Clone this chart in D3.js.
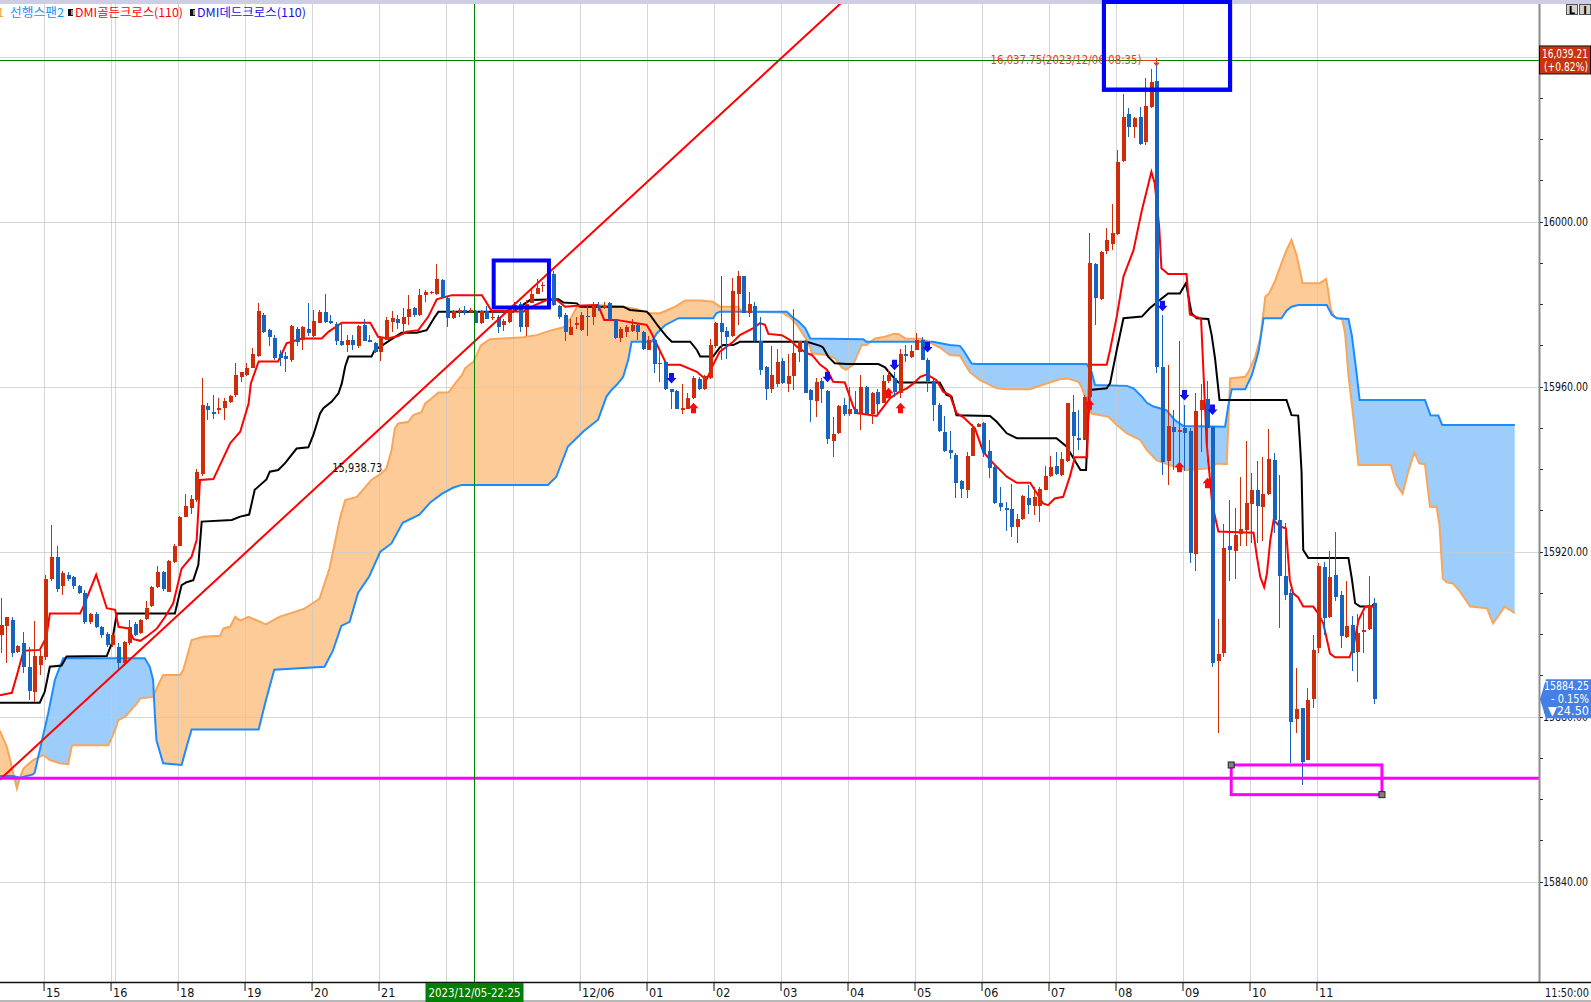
<!DOCTYPE html>
<html>
<head>
<meta charset="utf-8">
<script src="https://cdn.jsdelivr.net/npm/d3@7"></script>
<style>
  body { margin: 0; background: #fff; overflow: hidden; }
  svg { display: block; }
  .num { font-family: "Liberation Sans Narrow", "DejaVu Sans Condensed", "Arial Narrow", sans-serif; }
  .kr { font-family: "Noto Sans CJK KR", "Noto Sans", sans-serif; }
</style>
</head>
<body>
<svg id="chart" width="1591" height="1002"></svg>
<script>
(function () {
  // 5-minute candles, index 0 = 14:20 ... 246 = 11:50  [open, high, low, close]
  const candles = [
    [15899.75,15908.75,15895.5,15902.25],[15902,15904.25,15893,15904.25],[15903.5,15904.25,15894.5,15895.5],[15895.75,15897.5,15895.5,15897.25],
    [15897.75,15900.5,15890.5,15892],[15892,15897,15884,15886.25],[15886,15903.25,15883.5,15894.75],[15892.5,15896.5,15890,15894.75],
    [15894.5,15914.25,15893.75,15913.5],[15913.5,15926.5,15913,15918.75],[15918.75,15921.5,15910.25,15911],[15911.75,15915.25,15909.5,15914.75],
    [15914.25,15915,15913,15913.5],[15913.75,15914,15911,15911.75],[15911.75,15912,15909.75,15910],[15910,15910.75,15902.5,15903],
    [15903,15905.25,15902.5,15905],[15905,15905.5,15901.5,15901.75],[15901.75,15902,15899,15899.75],[15900,15900.5,15897,15897.5],
    [15897.5,15900.25,15897,15899.75],[15897,15897.75,15891.25,15893],[15893,15898.25,15892.25,15898],[15897.75,15903.5,15897.5,15901.75],
    [15902.5,15903,15899.5,15899.75],[15900.25,15903.75,15900,15903.5],[15903.75,15908,15903.5,15906.25],[15906.75,15911.75,15906.5,15911.5],
    [15911.5,15916.5,15911.25,15915],[15915,15915.25,15910.5,15911],[15910.25,15918,15910.25,15917.75],[15917.5,15921.75,15917.25,15921.5],
    [15921.5,15928.75,15921.5,15928.5],[15928.5,15934,15928.5,15931],[15930.5,15933.75,15929.25,15932.75],[15932.5,15940,15932,15939.25],
    [15938.75,15962,15938.25,15955.5],[15955.25,15956,15952,15954.25],[15953.75,15958,15952.25,15953.5],[15954.5,15957.25,15953.5,15954.75],
    [15954.75,15957.25,15952,15956.5],[15956.25,15958,15956,15957.75],[15958,15965.75,15957.5,15962.75],[15962.25,15963.5,15961.25,15963.5],
    [15962.75,15965.75,15962.5,15964.5],[15964.5,15969.5,15964.5,15968],[15967.5,15980.25,15967.25,15978.25],[15977.5,15977.75,15973,15973.25],
    [15973.75,15974,15969.75,15972],[15971.75,15972.5,15966.5,15967],[15968,15969,15965,15967],[15967.5,15968.5,15963.5,15966.75],
    [15966.5,15975,15966,15974.75],[15974,15974.5,15969.75,15970.75],[15971.25,15974.75,15969,15974.5],[15974,15980.25,15972.25,15973],
    [15972.25,15978.5,15972,15976],[15975.5,15978.5,15975.5,15978],[15978,15982.5,15975.5,15975.75],[15976,15977.5,15975.25,15975.5],
    [15975.25,15975.75,15970,15971],[15971,15975.75,15969.75,15970],[15970,15972.5,15968.5,15971.25],[15971.25,15972.5,15969,15970],
    [15969.75,15975,15969.5,15974.75],[15975,15976.5,15971,15971],[15971.25,15972.5,15970.75,15970.75],[15970.5,15970.75,15968.25,15968.5],
    [15968.5,15972.25,15966.25,15972],[15971.25,15977,15971.25,15976.25],[15975.75,15978.25,15973.25,15976.75],[15976.5,15977.5,15974,15975.5],
    [15975.25,15979,15972.5,15977],[15977,15982.25,15975,15978.75],[15979,15979.25,15977,15977.5],[15977.5,15983.75,15977.25,15982.25],
    [15982.25,15983.5,15980.5,15983],[15982.75,15983.25,15982.5,15983],[15982.5,15989.75,15982.25,15986],[15985.75,15986,15981.75,15981.75],
    [15981.5,15981.75,15974.5,15976.75],[15976.75,15978.5,15976.5,15978.25],[15978.25,15979,15977,15978.5],[15978.5,15979.5,15977.5,15978.25],
    [15978.25,15979,15977.75,15978.5],[15978.25,15978.5,15975.5,15975.5],[15975.5,15978.5,15975.25,15978.25],[15978.25,15979.5,15976.5,15976.5],
    [15976.75,15978.25,15976.25,15977],[15977,15977.5,15973,15974.5],[15975,15976.5,15973.5,15976],[15975.75,15979,15975.5,15978.75],
    [15978.5,15980.5,15978.25,15979.75],[15980,15980.5,15973.25,15974.5],[15974.5,15981,15972.25,15980],[15980.25,15983.5,15980.25,15982.5],
    [15982.5,15986,15982.5,15984],[15984.5,15985.5,15983,15984.75],[15985,15987,15984.5,15986],[15987.25,15988,15979.5,15979.75],
    [15979.5,15979.75,15976.5,15977],[15977.5,15977.75,15971,15973.25],[15972.5,15976.5,15972.5,15974.5],[15975,15977,15974,15975.5],
    [15973.75,15978,15973.5,15977.5],[15977.25,15979.75,15972.25,15977],[15977,15980.5,15975,15979.5],[15979.5,15980.5,15978.25,15979],
    [15979,15980.5,15978.75,15979.5],[15980.25,15980.5,15976,15976.25],[15976.25,15976.5,15971.5,15971.75],[15971.75,15974.5,15970.75,15974],
    [15973.25,15975,15972,15974.5],[15973.5,15976.5,15973.25,15975],[15975,15975.5,15971.25,15973.25],[15973.25,15973.5,15969,15969.25],
    [15969,15972.25,15969,15971.25],[15971.25,15972,15963.25,15965.5],[15965.5,15968.5,15961.25,15965.75],[15966,15966,15959.25,15959.5],
    [15959.5,15959.5,15954.5,15958.75],[15959,15959.25,15954.5,15954.5],[15954.25,15960.75,15953.5,15954.75],[15954.5,15958.5,15954.5,15957.25],
    [15957.25,15962.5,15957,15962],[15961.75,15962.25,15959.25,15959.5],[15959.5,15962.75,15959.25,15962.5],[15962,15971.5,15961.75,15970],
    [15969.75,15975.75,15969.5,15975.5],[15975.5,15986.75,15966.5,15973.25],[15973.5,15974.5,15966.75,15972],[15972.25,15986.25,15972,15983.25],
    [15982.5,15988,15975,15986.75],[15986.75,15986.75,15977.75,15977.75],[15977.75,15983,15977,15980],[15979.5,15980.5,15970.75,15971],
    [15971,15977,15962.75,15964],[15964.75,15965,15956.75,15959.5],[15959.5,15969.75,15958.5,15962.75],[15960.75,15969.25,15960,15966],
    [15966.25,15967,15960.75,15961],[15960.75,15968,15958.75,15962.5],[15962.5,15978.75,15959.25,15968.25],[15968.5,15971,15966,15971],
    [15971,15971.25,15958.5,15958.5],[15959.25,15959.5,15951.5,15956.75],[15956.5,15962,15952.75,15961.25],[15961.5,15962,15956,15959.5],
    [15959,15959.25,15946,15947.25],[15946.75,15952.75,15943,15948.5],[15948.75,15955.5,15948.5,15955.25],[15955.5,15957.25,15953,15953.5],
    [15953.5,15960,15953,15954.5],[15954.5,15959,15953.5,15953.5],[15953.5,15962.75,15949.5,15960],[15960,15960.25,15953.5,15953.5],
    [15953.5,15958.75,15951,15958.5],[15958.75,15959.5,15953,15955.75],[15956,15962.75,15956,15961.5],[15961.5,15964,15961,15962.75],
    [15962,15963.5,15957.5,15958.75],[15958.5,15969.25,15957.25,15968],[15968,15970,15966,15967.5],[15967.25,15970,15967,15968.75],
    [15969,15973,15969,15971.25],[15971.25,15972,15966.5,15966.5],[15966.5,15967,15958.75,15961.5],[15961.5,15962,15951.75,15955.5],
    [15955.5,15956,15949,15949.25],[15949,15953,15944.25,15944.5],[15944.75,15949.25,15942.5,15944],[15943.5,15944,15933,15936.75],
    [15937.25,15937.5,15933,15935.25],[15935,15944.25,15933,15943.25],[15943.25,15951,15943.25,15950],[15950.25,15951.25,15950.25,15951],
    [15951.25,15951.5,15943,15944],[15944.5,15947,15937.75,15940.25],[15940.5,15941,15931.5,15931.75],[15931.75,15935.75,15929.75,15930.75],
    [15930.5,15932,15925,15930.25],[15930.25,15936.5,15923.5,15926],[15926,15929.25,15922,15928],[15928,15933.75,15927.75,15933.5],
    [15933,15936.25,15929.25,15931.25],[15931,15935.75,15929,15933.25],[15931,15935.75,15927.25,15935.25],[15935,15940.75,15935,15938.25],
    [15938.25,15943.25,15938,15940.5],[15940.75,15944.25,15938.5,15938.75],[15938.5,15944.25,15938.25,15942.5],[15942,15956,15941.75,15956],
    [15953.75,15958,15940.5,15948],[15947.5,15954.25,15944.75,15947.25],[15947,15958,15947,15957.5],[15957.5,15997.25,15956.75,15990],
    [15989.75,15990,15975,15981.5],[15981.25,15993,15981,15992.75],[15993,15998.5,15992.25,15995.5],[15994.5,16004.25,15993.25,15997.25],
    [15997,16017.5,15996.75,16014.5],[16014.75,16031,16014.5,16025.5],[16026,16027.5,16020.5,16023],[16023,16025.5,16020.25,16025.25],
    [16025.5,16027.75,16018.5,16018.75],[16019.25,16034.75,16018.5,16028],[16027.75,16037,16027.5,16033.75],[16034,16037.75,15963.25,15964.75],
    [15964.75,15977.5,15938.5,15941.75],[15942,15965.25,15936.25,15950.5],[15950.25,15954.25,15939.75,15949],[15949,15971,15940.5,15949.5],
    [15950,15955.5,15939.5,15948.75],[15949.25,15950,15917.25,15919.75],[15919.5,15958.5,15915.25,15954],[15954.25,15960.75,15944.25,15956.75],
    [15957,15961.5,15941.75,15950],[15950.25,15950.5,15892,15893],[15893.5,15903.75,15876,15895.25],[15895.5,15926.75,15894.5,15921],
    [15921.5,15932.5,15913,15920.5],[15920.25,15930.5,15913.5,15924],[15924.25,15938,15921.5,15925.5],[15925.25,15946.75,15921.5,15931.75],
    [15931.5,15939,15922,15935],[15935,15942,15922,15931],[15930.75,15943,15922.5,15934],[15934,15949.75,15933.75,15942.5],
    [15942.25,15944,15924.5,15927.75],[15927.75,15938.5,15901.5,15914],[15914,15927,15908.25,15909.5],[15910,15911,15868.75,15878.75],
    [15879.5,15891.75,15876,15881.75],[15882,15882,15863.5,15869],[15869.5,15887,15869.5,15884],[15884.25,15899.75,15882,15896.25],
    [15896.75,15917.25,15895.5,15916.5],[15916.25,15917.5,15899.75,15904],[15904.25,15920.25,15904,15913.75],[15914.25,15924.75,15908,15909],
    [15909.5,15910.5,15896.75,15899.5],[15899.25,15913,15899,15902],[15902.25,15904.5,15891,15895.5],[15895.75,15905,15888.5,15900.25],
    [15900.5,15905.25,15895.5,15901],[15901.25,15914,15901,15907],[15907.5,15908.75,15883,15884.25]
  ];

  // indicator lines as [candle index, price] vertices
  const tenkanLine = [
    [-0.2,15885.2],[2.0,15885.8],[3.0,15890.5],[4.1,15896.0],[7.0,15896.2],[8.2,15899.4],[8.8,15905.0],[14.2,15905.0],[14.8,15906.7],
    [17.1,15914.4],[19.0,15906.3],[20.5,15905.9],[21.1,15901.8],[22.9,15901.4],[23.8,15898.8],[25.0,15898.4],[26.1,15899.4],[28.0,15901.4],
    [29.4,15904.1],[30.9,15907.5],[32.4,15915.9],[34.2,15918.8],[35.1,15922.8],[35.7,15937.4],[38.1,15937.6],[41.1,15946.3],[42.9,15949.1],
    [44.4,15955.9],[44.8,15960.8],[46.2,15966.1],[49.7,15966.1],[51.2,15970.5],[53.9,15971.7],[57.5,15971.7],[58.7,15973.3],[61.1,15975.5],
    [66.2,15975.5],[67.6,15972.1],[69.4,15971.7],[71.2,15972.3],[72.7,15973.3],[74.8,15973.7],[76.6,15977.0],[78.1,15981.2],[80.8,15982.2],
    [86.2,15982.2],[87.9,15978.4],[93.6,15978.2],[95.7,15979.8],[97.8,15981.0],[99.6,15981.0],[101.1,15979.4],[103.2,15979.6],[107.0,15979.8],
    [108.1,15976.2],[110.3,15976.2],[113.3,15975.5],[115.7,15975.0],[116.6,15972.9],[117.8,15969.5],[119.3,15965.3],[121.7,15965.3],
    [124.7,15963.6],[126.4,15961.6],[127.6,15965.3],[128.8,15968.5],[131.2,15970.9],[132.4,15972.5],[134.8,15974.2],[136.0,15975.4],
    [136.9,15975.0],[137.5,15972.8],[139.9,15972.5],[141.4,15971.3],[142.6,15969.7],[144.4,15968.1],[145.3,15967.7],[146.8,15965.3],
    [148.0,15964.1],[149.1,15961.2],[151.2,15961.0],[152.7,15955.2],[153.3,15953.6],[156.9,15952.9],[157.5,15954.0],[159.3,15957.2],
    [160.8,15958.6],[162.3,15959.6],[163.5,15960.8],[164.7,15962.4],[165.9,15963.0],[167.6,15961.6],[168.8,15958.8],[170.0,15958.0],
    [171.2,15953.6],[172.5,15952.5],[174.5,15949.9],[176.0,15944.2],[177.8,15941.4],[180.2,15938.2],[182.0,15936.7],[184.4,15936.7],
    [185.6,15934.1],[186.7,15931.7],[187.6,15931.3],[188.8,15932.9],[190.3,15933.3],[191.5,15938.2],[192.4,15942.9],[194.6,15942.9],
    [195.0,15965.3],[198.1,15965.3],[198.7,15968.9],[199.9,15977.0],[201.1,15986.7],[202.9,15993.1],[204.4,16002.8],[205.3,16007.7],
    [206.1,16012.1],[206.7,16009.3],[207.5,15998.8],[207.9,15988.7],[209.1,15987.3],[212.4,15987.3],[213.0,15977.5],[215.0,15976.5],
    [216.0,15946.4],[217.0,15931.5],[218.1,15924.9],[224.4,15924.6],[225.0,15918.8],[225.6,15913.9],[226.3,15911.4],[226.8,15914.7],
    [227.4,15922.8],[228.0,15927.7],[229.1,15926.1],[230.2,15925.7],[230.9,15913.1],[231.5,15909.9],[232.4,15908.9],[233.3,15906.7],
    [235.1,15906.7],[236.0,15905.0],[236.9,15902.6],[238.1,15895.3],[239.0,15894.4],[241.6,15894.4],[242.3,15897.0],[243.2,15903.4],
    [244.4,15906.7],[246.0,15906.7]
  ];
  const kijunLine = [
    [-0.2,15883.4],[7.0,15883.4],[7.9,15886.1],[8.8,15892.1],[10.9,15892.4],[11.8,15894.6],[19.0,15894.7],[19.9,15897.8],[20.8,15905.0],
    [31.2,15905.0],[32.4,15911.9],[33.3,15912.6],[34.5,15913.1],[35.4,15916.8],[36.0,15927.3],[41.4,15927.7],[42.9,15928.5],[44.5,15929.0],
    [45.5,15935.0],[47.6,15937.5],[48.2,15939.4],[49.7,15939.8],[50.9,15941.4],[53.0,15945.0],[55.1,15945.3],[56.0,15948.3],[57.2,15953.5],
    [57.8,15954.8],[59.3,15956.4],[60.5,15958.4],[61.1,15960.8],[61.7,15964.9],[62.3,15967.3],[66.4,15967.3],[67.0,15968.9],[68.2,15969.9],
    [71.8,15973.1],[74.5,15973.1],[76.3,15973.7],[77.8,15977.0],[78.4,15978.2],[91.8,15978.2],[94.8,15981.0],[99.9,15981.2],[100.8,15980.4],
    [103.2,15980.2],[103.8,15979.4],[111.5,15979.4],[112.7,15978.6],[115.7,15978.2],[116.3,15977.4],[117.8,15974.6],[119.3,15972.1],
    [120.2,15970.9],[123.5,15970.9],[124.7,15968.9],[125.3,15967.3],[127.6,15967.3],[128.8,15969.5],[129.4,15970.1],[131.2,15970.1],
    [132.4,15970.9],[144.4,15970.9],[146.8,15969.9],[147.3,15969.5],[148.2,15967.3],[149.4,15965.7],[151.5,15965.5],[157.2,15965.5],
    [158.4,15964.7],[159.3,15963.2],[160.8,15961.0],[168.2,15961.0],[169.4,15958.0],[170.3,15957.6],[171.2,15953.1],[177.2,15952.9],
    [178.4,15951.5],[180.2,15948.7],[182.0,15947.5],[189.1,15947.5],[190.9,15945.5],[192.7,15941.4],[193.4,15939.8],[194.4,15939.8],
    [194.8,15952.7],[195.1,15959.2],[198.1,15959.6],[198.7,15960.8],[199.9,15968.9],[201.1,15976.6],[204.4,15977.0],[205.8,15979.0],
    [207.6,15981.0],[209.1,15982.6],[211.2,15982.6],[212.3,15985.1],[213.3,15977.8],[214.2,15976.6],[216.3,15976.4],[216.9,15972.5],
    [217.5,15966.9],[218.3,15956.8],[230.3,15956.8],[231.2,15953.1],[232.4,15953.0],[232.7,15946.7],[233.0,15939.4],[233.3,15920.4],
    [234.2,15918.5],[241.4,15918.5],[242.0,15913.5],[242.6,15907.5],[243.5,15906.7],[245.6,15906.7],[246.0,15907.5]
  ];
  const span1Line = [
    [-1,15878.0],[-0.1,15876.4],[1.1,15872.7],[2.9,15862.6],[3.5,15865.5],[4.1,15867.5],[5.8,15869.5],[7.6,15870.7],[8.8,15869.5],
    [10.6,15868.7],[12.1,15868.5],[12.7,15872.7],[13.0,15873.1],[19.3,15873.1],[20.5,15876.8],[21.1,15879.2],[22.3,15880.0],[24.4,15883.2],
    [25.0,15884.4],[27.3,15884.8],[28.2,15887.7],[29.1,15890.1],[32.1,15890.1],[32.7,15891.3],[34.2,15898.6],[36.3,15899.4],[39.3,15899.6],
    [39.9,15901.4],[41.1,15901.8],[42.0,15904.2],[42.9,15903.3],[44.4,15904.2],[47.5,15902.4],[49.9,15904.2],[54.4,15906.2],[57.1,15908.6],
    [58.9,15916.0],[60.8,15928.3],[61.7,15932.5],[63.8,15933.3],[66.4,15937.4],[68.2,15939.0],[69.1,15940.2],[70.0,15944.6],[70.6,15949.9],
    [71.2,15951.1],[73.0,15951.5],[73.9,15953.1],[75.4,15953.9],[76.0,15955.9],[77.2,15957.2],[78.4,15958.6],[80.2,15958.6],[81.4,15960.8],
    [82.6,15962.8],[83.2,15964.5],[84.7,15966.1],[86.0,15970.0],[87.6,15971.5],[93.6,15972.0],[96.0,15972.5],[98.4,15973.6],[100.8,15974.4],
    [102.3,15977.0],[103.2,15979.4],[106.7,15979.8],[111.5,15979.4],[113.9,15978.8],[116.3,15977.8],[118.1,15977.8],[120.5,15979.2],
    [122.6,15980.9],[125.3,15980.9],[127.6,15980.6],[128.8,15979.4],[132.1,15979.4],[132.7,15978.2],[139.9,15978.0],[141.4,15976.8],
    [142.6,15975.0],[144.4,15971.3],[145.0,15969.5],[145.3,15968.1],[147.9,15967.7],[149.4,15966.9],[150.6,15964.7],[151.4,15964.1],
    [152.7,15965.3],[154.2,15970.1],[155.1,15970.1],[156.6,15971.7],[158.4,15972.1],[159.9,15972.8],[160.8,15972.8],[162.0,15971.7],
    [164.7,15971.6],[166.2,15970.9],[168.2,15969.5],[170.0,15967.7],[171.8,15967.5],[173.6,15963.5],[175.4,15961.6],[176.6,15960.8],
    [178.4,15959.6],[180.2,15959.4],[184.4,15959.4],[185.6,15960.0],[187.9,15961.0],[189.7,15961.8],[191.2,15962.0],[193.0,15961.2],
    [193.6,15960.0],[194.2,15957.6],[195.4,15953.5],[198.4,15952.7],[199.9,15950.7],[201.7,15948.7],[204.1,15947.1],[205.3,15944.6],
    [207.0,15942.2],[209.4,15941.0],[212.4,15939.8],[216.6,15940.2],[217.8,15941.4],[219.6,15941.2],[220.2,15962.0],[222.9,15962.4],
    [223.5,15963.6],[224.7,15967.3],[225.6,15971.7],[226.2,15978.2],[226.5,15981.8],[227.2,15982.6],[228.2,15985.5],[229.4,15989.9],
    [230.3,15993.1],[231.2,15995.6],[232.1,15991.9],[233.2,15985.1],[236.3,15985.1],[237.4,15986.1],[237.8,15983.0],[238.2,15979.0],
    [238.8,15977.0],[240.3,15976.3],[240.8,15972.9],[241.4,15962.8],[242.3,15952.3],[243.2,15941.0],[249.0,15941.0],[250.0,15936.2],
    [251.1,15934.1],[252.1,15939.4],[253.2,15944.0],[254.1,15941.4],[255.1,15941.2],[256.0,15930.9],[257.2,15930.8],[257.7,15926.5],
    [258.3,15913.5],[259.0,15912.6],[260.1,15912.3],[261.4,15910.3],[263.2,15906.7],[266.2,15906.3],[267.3,15902.6],[269.4,15906.7],
    [271.2,15905.1]
  ];
  const span2Line = [
    [-1,15865.6],[2.2,15865.6],[3.4,15865.2],[5.8,15866.0],[6.1,15866.5],[7.0,15871.9],[8.5,15880.8],[9.7,15888.9],[10.6,15892.1],[11.2,15894.2],[25.8,15894.2],
    [26.7,15892.1],[27.3,15888.9],[27.6,15880.8],[27.9,15874.3],[29.1,15868.7],[32.4,15868.3],[33.3,15872.7],[34.2,15876.9],[46.2,15876.9],
    [47.5,15884.0],[49.0,15891.4],[58.0,15892.1],[59.5,15896.0],[61.0,15902.0],[62.5,15903.0],[64.0,15910.0],[66.0,15914.0],[68.0,15920.0],
    [70.0,15922.0],[72.0,15927.0],[75.0,15929.0],[77.0,15932.0],[79.0,15934.0],[81.0,15935.5],[82.6,15936.2],[98.0,15936.2],[99.5,15938.1],
    [101.6,15945.5],[104.4,15949.2],[107.0,15952.0],[108.5,15957.6],[109.4,15959.2],[110.3,15960.4],[111.5,15962.4],[112.4,15966.5],
    [113.0,15970.9],[116.6,15970.9],[117.5,15972.9],[118.4,15974.1],[119.0,15974.9],[121.4,15976.6],[127.6,15976.6],[128.2,15977.8],
    [128.8,15978.2],[140.8,15978.2],[141.7,15977.0],[142.9,15975.8],[144.1,15974.2],[145.0,15971.7],[154.5,15971.5],[155.1,15970.9],
    [167.0,15970.9],[170.0,15970.1],[171.8,15969.9],[172.4,15968.9],[173.9,15965.6],[174.8,15965.5],[194.5,15965.5],[195.4,15963.6],
    [196.0,15960.4],[201.7,15960.2],[202.9,15959.6],[204.4,15957.6],[205.3,15956.1],[206.5,15955.2],[208.8,15954.3],[210.3,15951.9],
    [211.8,15950.5],[219.3,15950.3],[219.9,15955.6],[220.5,15959.4],[222.9,15959.4],[224.1,15962.8],[225.3,15968.5],[226.2,15976.6],
    [229.4,15976.6],[230.3,15978.4],[231.2,15979.4],[232.4,15979.8],[237.5,15979.8],[238.4,15977.5],[239.3,15976.6],[241.4,15976.4],
    [242.0,15972.5],[242.9,15962.8],[243.4,15956.8],[255.1,15956.8],[256.1,15953.1],[257.5,15953.0],[258.2,15950.7],[271.2,15950.7]
  ];

  // DMI signals: [candle index, arrow price]
  const deadCross = [[120,15962.1],[148,15962.4],[160,15965.3],[166,15969.6],[208,15979.6],[212,15958.0],[217,15954.5]];
  const goldenCross = [[124,15954.8],[159,15958.4],[161,15954.8],[195,15955.6],[211,15940.5],[216,15936.6]];

  // drawings
  const trendLine = [[-0.125,15864.8],[102.56,15993.1]];
  const supportPrice = 15865.06;
  const boxes = [
    { from: [88.3,15990.6], to: [98.2,15979.2], color: '#0000ff' },
    { from: [197.6,16070], to: [220.2,16032.0], color: '#0000ff' },
    { from: [220.4,15868.3], to: [247.4,15861.1], color: '#ff00ff' }
  ];
  const trendLabel = { idx: 59.4, price: 15938.73, text: '15,938.73' };
  const highMark = { idx: 207, price: 16037.75, text: '16,037.75(2023/12/06-08:35)' };

  // axes
  const priceTicks = [15840, 15880, 15920, 15960, 16000, 16040];
  const priceLabelTicks = [15840, 15880, 15920, 15960, 16000];
  const hourTickIdx = [8,20,32,44,56,68,80,92,104,116,128,140,152,164,176,188,200,212,224,236];
  const hourTickLabels = ['15','16','18','19','20','21','22','23','12/06','01','02','03','04','05','06','07','08','09','10','11'];
  const sessionBreakIdx = [20.75];
  const crossIdx = 85, crossPrice = 16039.21;
  const crossTimeText = '2023/12/05-22:25';
  const lastTimeText = '11:50:00';
  const crossPriceText = ['16,039.21', '(+0.82%)'];
  const lastPriceText = ['15884.25', '- 0.15%', '\u25BC24.50'];
  const legendItems = [
    { text: '선행스팬1', color: '#f5a04a', x: 4, anchor: 'end' },
    { text: '선행스팬2', color: '#1e8ff0', x: 10, w: 54 },
    { text: 'DMI골든크로스(110)', color: '#ff0000', x: 75, icon: 68, w: 108 },
    { text: 'DMI데드크로스(110)', color: '#1414e0', x: 197, icon: 190, w: 109 }
  ];

  const PLOT_RIGHT = 1539;
  const PLOT_TOP = 4;
  const PLOT_BOTTOM = 982;
  const UP = '#d02c0a', DOWN = '#1763c0';

  const x = d3.scaleLinear().domain([-0.125, 275.53]).range([0, PLOT_RIGHT]);
  const y = d3.scaleLinear().domain([15840, 16000]).range([881.7, 221.7]);
  const gridX = i => Math.round(x(i) - 1.8) + 0.5;

  const svg = d3.select('#chart');
  const defs = svg.append('defs');
  defs.append('clipPath').attr('id', 'plotClip').append('rect')
    .attr('x', 0).attr('y', PLOT_TOP).attr('width', PLOT_RIGHT).attr('height', PLOT_BOTTOM - PLOT_TOP);

  // top strip
  svg.append('rect').attr('x', 0).attr('y', 0).attr('width', 1591).attr('height', PLOT_TOP).attr('fill', '#cdcde4');

  const plot = svg.append('g').attr('clip-path', 'url(#plotClip)');

  // ==================
  // Cloud
  // ==================
  const line = d3.line().x(d => x(d[0])).y(d => y(d[1]));
  const areaDown = d3.area().x(d => x(d[0])).y0(PLOT_BOTTOM + 50).y1(d => y(d[1]));
  const areaUp = d3.area().x(d => x(d[0])).y0(-50).y1(d => y(d[1]));
  defs.append('clipPath').attr('id', 'belowSpan1').append('path').attr('d', areaDown(span1Line));
  defs.append('clipPath').attr('id', 'belowSpan2').append('path').attr('d', areaDown(span2Line));
  plot.append('path').attr('d', areaUp(span2Line)).attr('fill', '#fdcb98').attr('clip-path', 'url(#belowSpan1)');
  plot.append('path').attr('d', areaUp(span1Line)).attr('fill', '#9dcdfb').attr('clip-path', 'url(#belowSpan2)');

  // grid
  const grid = plot.append('g').attr('stroke', 'rgba(200,200,200,0.75)').attr('stroke-width', 1).attr('shape-rendering', 'crispEdges');
  grid.selectAll('.vg').data(hourTickIdx.concat(sessionBreakIdx)).join('line').attr('class', 'vg')
    .attr('x1', gridX).attr('x2', gridX).attr('y1', PLOT_TOP).attr('y2', PLOT_BOTTOM);
  grid.selectAll('.hg').data(priceTicks).join('line').attr('class', 'hg')
    .attr('x1', 0).attr('x2', PLOT_RIGHT)
    .attr('y1', d => Math.round(y(d)) + 0.5).attr('y2', d => Math.round(y(d)) + 0.5);

  plot.append('path').attr('d', line(span1Line)).attr('fill', 'none').attr('stroke', '#f8a65a').attr('stroke-width', 2);
  plot.append('path').attr('d', line(span2Line)).attr('fill', 'none').attr('stroke', '#1a8cff').attr('stroke-width', 2);
  plot.append('path').attr('d', line(kijunLine)).attr('fill', 'none').attr('stroke', '#000').attr('stroke-width', 2);
  plot.append('path').attr('d', line(tenkanLine)).attr('fill', 'none').attr('stroke', '#ff0000').attr('stroke-width', 2);

  // ==================
  // Candles
  // ==================
  const cg = plot.append('g').attr('shape-rendering', 'crispEdges');
  const cx = i => Math.round(x(i));
  cg.selectAll('.wick').data(candles).join('line').attr('class', 'wick')
    .attr('x1', (d, i) => cx(i) + 0.5).attr('x2', (d, i) => cx(i) + 0.5)
    .attr('y1', d => y(d[1])).attr('y2', d => y(d[2]))
    .attr('stroke', d => d[3] >= d[0] ? UP : DOWN).attr('stroke-width', 1);
  cg.selectAll('.body').data(candles).join('rect').attr('class', 'body')
    .attr('x', (d, i) => cx(i) - 1.5).attr('width', 4)
    .attr('y', d => y(Math.max(d[0], d[3])))
    .attr('height', d => Math.max(1.5, Math.abs(y(d[0]) - y(d[3]))))
    .attr('fill', d => d[3] >= d[0] ? UP : DOWN);

  // DMI arrows
  const downArrow = (px, py) => `M${px - 2.5},${py - 5}h5v5h2.5l-5,5.5l-5,-5.5h2.5z`;
  const upArrow = (px, py) => `M${px - 2.5},${py + 5}h5v-5h2.5l-5,-5.5l-5,5.5h2.5z`;
  plot.selectAll('.dead').data(deadCross).join('path').attr('class', 'dead')
    .attr('d', d => downArrow(cx(d[0]) + 0.5, y(d[1]))).attr('fill', '#1010ee');
  plot.selectAll('.gold').data(goldenCross).join('path').attr('class', 'gold')
    .attr('d', d => upArrow(cx(d[0]) + 0.5, y(d[1]))).attr('fill', '#ff0a0a');

  // ==================
  // Drawings
  // ==================
  const tl = d3.scaleLinear().domain([trendLine[0][0], trendLine[1][0]]).range([trendLine[0][1], trendLine[1][1]]);
  plot.append('line')
    .attr('x1', x(trendLine[0][0])).attr('y1', y(trendLine[0][1]))
    .attr('x2', x(160)).attr('y2', y(tl(160)))
    .attr('stroke', '#ff0000').attr('stroke-width', 2);

  plot.append('line').attr('x1', 0).attr('x2', PLOT_RIGHT)
    .attr('y1', y(supportPrice)).attr('y2', y(supportPrice))
    .attr('stroke', '#ff00ff').attr('stroke-width', 3);

  plot.selectAll('.box').data(boxes).join('rect').attr('class', 'box')
    .attr('x', d => x(d.from[0])).attr('y', d => y(d.from[1]))
    .attr('width', d => x(d.to[0]) - x(d.from[0])).attr('height', d => y(d.to[1]) - y(d.from[1]))
    .attr('fill', 'none').attr('stroke', d => d.color).attr('stroke-width', d => d.color === '#ff00ff' ? 3 : 4);
  const mbox = boxes[2];
  [[mbox.from[0], mbox.from[1]], [mbox.to[0], mbox.to[1]]].forEach(p => {
    plot.append('rect').attr('x', x(p[0]) - 3).attr('y', y(p[1]) - 3).attr('width', 6).attr('height', 6)
      .attr('fill', '#808080').attr('stroke', '#222').attr('stroke-width', 1);
  });

  plot.append('text').attr('class', 'num')
    .attr('x', x(trendLabel.idx)).attr('y', y(trendLabel.price) - 2)
    .attr('font-size', 12.5).attr('fill', '#111')
    .attr('textLength', 50).attr('lengthAdjust', 'spacingAndGlyphs').text(trendLabel.text);

  // crosshair
  const crossX = cx(crossIdx) - 0.5;
  plot.append('line').attr('x1', crossX).attr('x2', crossX).attr('y1', PLOT_TOP).attr('y2', PLOT_BOTTOM)
    .attr('stroke', '#008000').attr('stroke-width', 1);
  plot.append('line').attr('x1', 0).attr('x2', PLOT_RIGHT)
    .attr('y1', Math.round(y(crossPrice)) + 0.5).attr('y2', Math.round(y(crossPrice)) + 0.5)
    .attr('stroke', '#008000').attr('stroke-width', 1.2);

  // high marker
  const hx = cx(highMark.idx) + 0.5;
  const hy = y(highMark.price);
  svg.append('text').attr('class', 'num')
    .attr('x', hx - 15).attr('y', hy - 1.5).attr('text-anchor', 'end')
    .attr('font-size', 12).attr('fill', '#e0401c')
    .attr('textLength', 151).attr('lengthAdjust', 'spacingAndGlyphs').text(highMark.text);
  svg.append('line').attr('x1', hx - 14).attr('x2', hx).attr('y1', hy - 5.5).attr('y2', hy - 5.5)
    .attr('stroke', '#e0401c').attr('stroke-width', 1);
  svg.append('path').attr('d', `M${hx - 2.5},${hy - 3}l2.5,3l2.5,-3z M${hx},${hy - 8}v6`)
    .attr('fill', '#e0401c').attr('stroke', '#e0401c').attr('stroke-width', 1);
  // blue box over the label, as in the picture
  svg.append('rect')
    .attr('x', x(boxes[1].from[0])).attr('y', 2)
    .attr('width', x(boxes[1].to[0]) - x(boxes[1].from[0])).attr('height', y(boxes[1].to[1]) - 2)
    .attr('fill', 'none').attr('stroke', '#0000ff').attr('stroke-width', 4);

  // ==================
  // Legend
  // ==================
  const lg = svg.append('g');
  legendItems.forEach(it => {
    if (it.icon !== undefined) {
      lg.append('rect').attr('x', it.icon).attr('y', 9).attr('width', 5).attr('height', 7).attr('fill', '#111');
      lg.append('rect').attr('x', it.icon + 3).attr('y', 10).attr('width', 2).attr('height', 5).attr('fill', '#9a9a9a');
    }
    const t = lg.append('text').attr('class', 'kr').attr('x', it.x).attr('y', 17)
      .attr('text-anchor', it.anchor || 'start')
      .attr('font-size', 12).attr('fill', it.color).text(it.text);
    if (it.w) t.attr('textLength', it.w).attr('lengthAdjust', 'spacingAndGlyphs');
  });

  // ==================
  // Price axis (right)
  // ==================
  svg.append('line').attr('x1', PLOT_RIGHT + 0.5).attr('x2', PLOT_RIGHT + 0.5).attr('y1', PLOT_TOP).attr('y2', PLOT_BOTTOM)
    .attr('stroke', '#8c8c8c').attr('stroke-width', 2);
  const yAxis = d3.axisRight(y).tickValues(priceLabelTicks).tickFormat(d3.format('.2f')).tickSize(0).tickPadding(4);
  const yAxisG = svg.append('g').attr('class', 'num').attr('transform', `translate(${PLOT_RIGHT}, 0)`).call(yAxis);
  yAxisG.select('.domain').remove();
  yAxisG.selectAll('text').attr('font-size', 12).attr('fill', '#111').attr('font-family', null)
    .attr('textLength', 45).attr('lengthAdjust', 'spacingAndGlyphs');
  const minorTicks = d3.range(15840, 16041, 10);
  svg.append('g').selectAll('line').data(minorTicks).join('line')
    .attr('x1', PLOT_RIGHT + 1).attr('x2', PLOT_RIGHT + 4)
    .attr('y1', d => Math.round(y(d)) + 0.5).attr('y2', d => Math.round(y(d)) + 0.5)
    .attr('stroke', '#333').attr('stroke-width', 1);

  // crosshair price box
  const cpy = y(crossPrice);
  svg.append('rect').attr('x', PLOT_RIGHT + 0.5).attr('y', cpy - 14).attr('width', 51).attr('height', 28)
    .attr('fill', '#c93312').attr('stroke', '#111').attr('stroke-width', 1);
  const crossW = [46, 44];
  crossPriceText.forEach((t, k) => {
    svg.append('text').attr('class', 'num').attr('x', 1588).attr('y', cpy - 2 + k * 13)
      .attr('text-anchor', 'end').attr('font-size', 12.5).attr('fill', '#fff')
      .attr('textLength', crossW[k]).attr('lengthAdjust', 'spacingAndGlyphs').text(t);
  });

  // last price box
  const last = candles[candles.length - 1][3];
  const lpy = y(last);
  svg.append('path')
    .attr('d', `M${PLOT_RIGHT + 1},${lpy} L${PLOT_RIGHT + 7},${lpy - 20} H1591 V${lpy + 19} H${PLOT_RIGHT + 7} Z`)
    .attr('fill', '#437fe6');
  const lastW = [45, 38, 41];
  lastPriceText.forEach((t, k) => {
    svg.append('text').attr('class', 'num').attr('x', 1589).attr('y', lpy - 9 + k * 12.5)
      .attr('text-anchor', 'end').attr('font-size', 12.5).attr('fill', '#fff')
      .attr('textLength', lastW[k]).attr('lengthAdjust', 'spacingAndGlyphs').text(t);
  });

  // L / I buttons
  [['L', 1566], ['I', 1579]].forEach(b => {
    svg.append('rect').attr('x', b[1] + 0.5).attr('y', 4.5).attr('width', 11).attr('height', 10)
      .attr('fill', '#d6d3ce').attr('stroke', '#555').attr('stroke-width', 1);
    svg.append('text').attr('class', 'num').attr('x', b[1] + 6).attr('y', 13.5).attr('text-anchor', 'middle')
      .attr('font-size', 11).attr('font-weight', 'bold').attr('fill', '#000').text(b[0]);
  });

  // ==================
  // Time axis (bottom)
  // ==================
  const crossBoxW = 98;
  const crossBoxX = crossX - crossBoxW / 2;
  const hiddenLabel = i => {
    const gx = gridX(i);
    return gx + 14 > crossBoxX && gx < crossBoxX + crossBoxW;
  };
  const tickScale = x.copy().range([x.range()[0] - 1.8, x.range()[1] - 1.8]);
  const xAxis = d3.axisBottom(tickScale).tickValues(hourTickIdx)
    .tickFormat((d, i) => hiddenLabel(d) ? '' : hourTickLabels[i])
    .tickSize(9).tickPadding(-8);
  const xAxisG = svg.append('g').attr('class', 'num').attr('transform', `translate(0, ${PLOT_BOTTOM})`).call(xAxis);
  xAxisG.select('.domain').remove();
  xAxisG.selectAll('.tick line').attr('stroke', '#111');
  xAxisG.selectAll('.tick text').attr('x', 2).attr('y', 6).attr('dy', '0.71em')
    .attr('text-anchor', 'start').attr('font-size', 12.5).attr('fill', '#111').attr('font-family', null);
  svg.append('line').attr('x1', 0).attr('x2', 1591).attr('y1', PLOT_BOTTOM + 0.5).attr('y2', PLOT_BOTTOM + 0.5)
    .attr('stroke', '#111').attr('stroke-width', 1.5);
  svg.append('line').attr('x1', 0).attr('x2', 1591).attr('y1', 1001).attr('y2', 1001)
    .attr('stroke', '#b8b8b8').attr('stroke-width', 2);

  svg.append('rect').attr('x', crossBoxX).attr('y', PLOT_BOTTOM + 1).attr('width', crossBoxW).attr('height', 19)
    .attr('fill', '#008000');
  svg.append('text').attr('class', 'num').attr('x', crossX).attr('y', PLOT_BOTTOM + 15)
    .attr('text-anchor', 'middle').attr('font-size', 12.5).attr('fill', '#fff')
    .attr('textLength', 92).attr('lengthAdjust', 'spacingAndGlyphs').text(crossTimeText);
  svg.append('text').attr('class', 'num').attr('x', 1589).attr('y', PLOT_BOTTOM + 15)
    .attr('text-anchor', 'end').attr('font-size', 12.5).attr('fill', '#111')
    .attr('textLength', 44).attr('lengthAdjust', 'spacingAndGlyphs').text(lastTimeText);
})();
</script>
</body>
</html>
